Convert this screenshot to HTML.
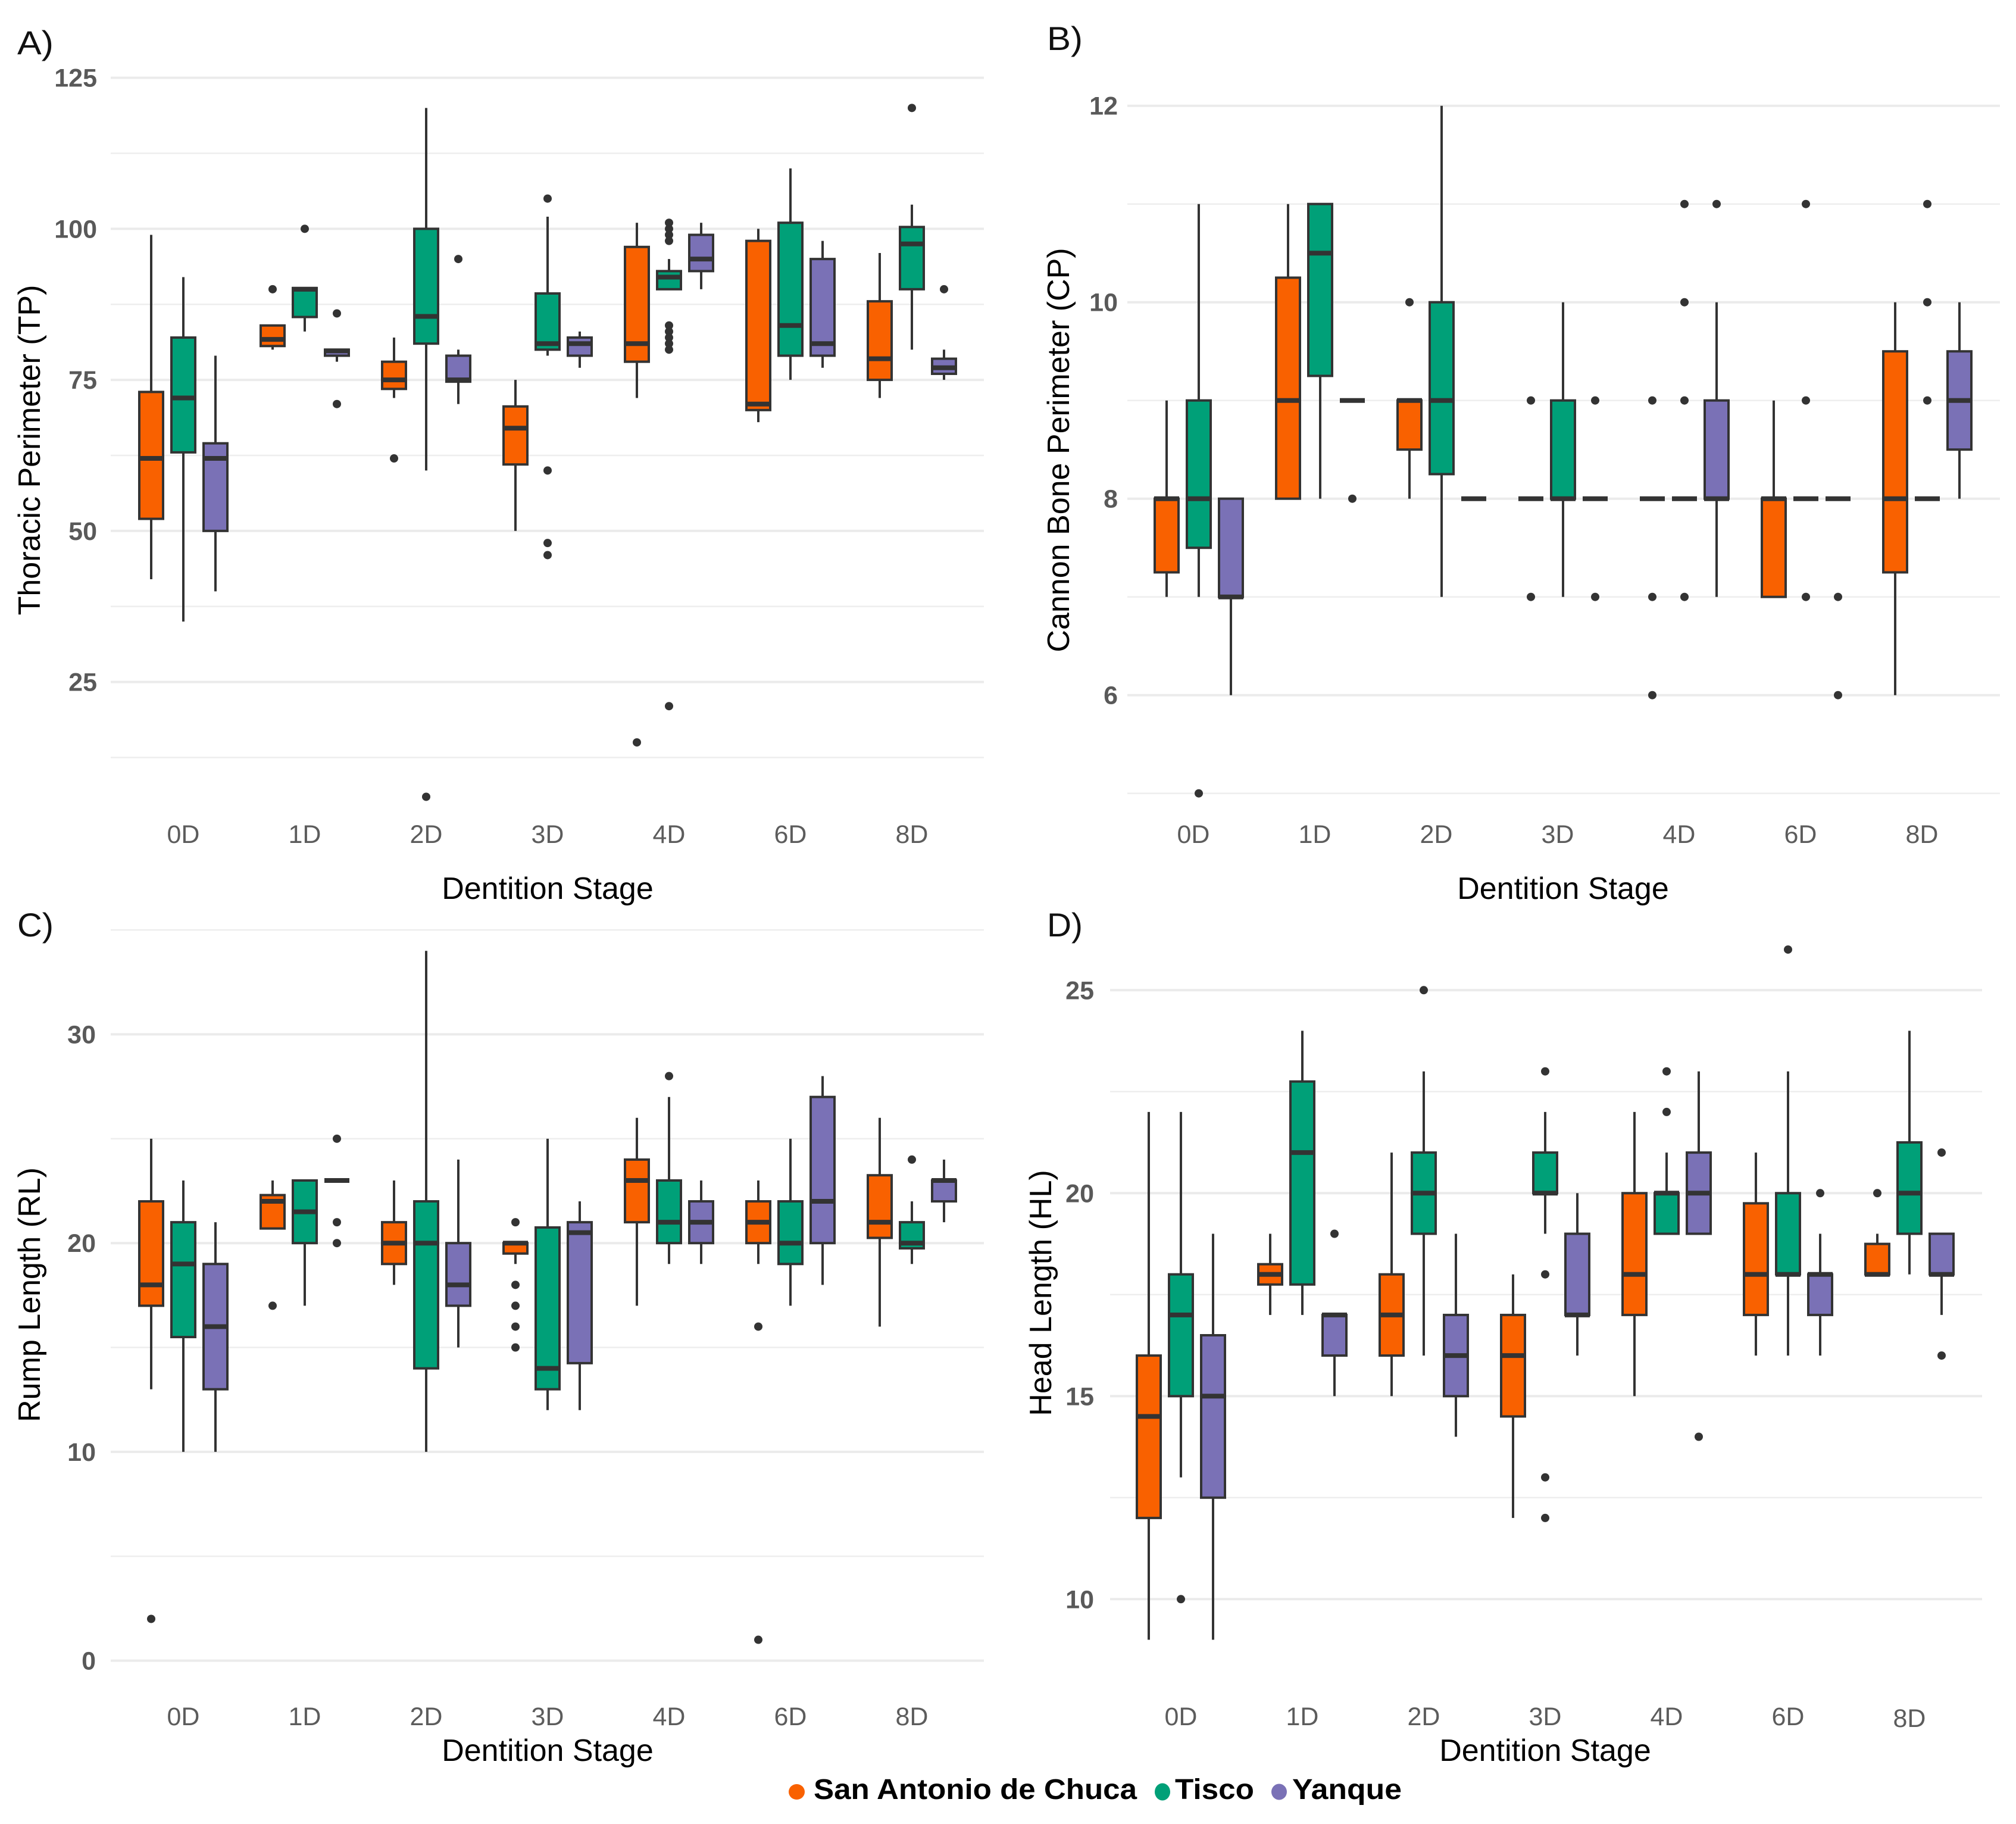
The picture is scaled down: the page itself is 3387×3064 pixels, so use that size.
<!DOCTYPE html>
<html lang="en">
<head>
<meta charset="utf-8">
<title>Body measurements by dentition stage</title>
<style>
html,body{margin:0;padding:0;background:#fff;}
svg{display:block;font-family:"Liberation Sans",sans-serif;}
.title{font-size:52px;fill:#000;}
.panel{font-size:56px;fill:#111;}
.legend{font-size:48px;font-weight:bold;fill:#000;}
</style>
</head>
<body>
<svg id="chart" xmlns="http://www.w3.org/2000/svg" width="3387" height="3064" viewBox="0 0 3387 3064">
  <rect x="0" y="0" width="3387" height="3064" fill="#ffffff"/>
  <g id="panel-a"></g>
  <g id="panel-b"></g>
  <g id="panel-c"></g>
  <g id="panel-d"></g>

  <text class="panel" x="29" y="91" textLength="61" lengthAdjust="spacingAndGlyphs">A)</text>
  <text class="panel" x="1759" y="84" textLength="60" lengthAdjust="spacingAndGlyphs">B)</text>
  <text class="panel" x="29" y="1573" textLength="61" lengthAdjust="spacingAndGlyphs">C)</text>
  <text class="panel" x="1759" y="1573" textLength="60" lengthAdjust="spacingAndGlyphs">D)</text>

  <text class="title" text-anchor="middle" transform="translate(67,756) rotate(-90)">Thoracic Perimeter (TP)</text>
  <text class="title" text-anchor="middle" transform="translate(1796,756) rotate(-90)">Cannon Bone Perimeter (CP)</text>
  <text class="title" text-anchor="middle" transform="translate(67,2175) rotate(-90)">Rump Length (RL)</text>
  <text class="title" text-anchor="middle" transform="translate(1766,2172) rotate(-90)">Head Length (HL)</text>

  <text class="title" text-anchor="middle" x="920" y="1510">Dentition Stage</text>
  <text class="title" text-anchor="middle" x="2626" y="1510">Dentition Stage</text>
  <text class="title" text-anchor="middle" x="920" y="2958">Dentition Stage</text>
  <text class="title" text-anchor="middle" x="2596" y="2958">Dentition Stage</text>

  <g>
    <ellipse cx="1338.5" cy="3010" rx="13.5" ry="13" fill="#F96100"/>
    <text class="legend" x="1367" y="3022" textLength="543" lengthAdjust="spacingAndGlyphs">San Antonio de Chuca</text>
    <ellipse cx="1953" cy="3010" rx="13" ry="14.5" fill="#00A078"/>
    <text class="legend" x="1974" y="3022" textLength="133" lengthAdjust="spacingAndGlyphs">Tisco</text>
    <ellipse cx="2149" cy="3010" rx="13" ry="13.5" fill="#7A71B6"/>
    <text class="legend" x="2171" y="3022" textLength="184" lengthAdjust="spacingAndGlyphs">Yanque</text>
  </g>
</svg>

<script>
// ---------- shared categories ----------
const categories = ['0D', '1D', '2D', '3D', '4D', '6D', '8D'];
const seriesNames = ['San Antonio de Chuca', 'Tisco', 'Yanque'];

// Each stats row: [lower whisker, q1, median, q3, upper whisker], one row per dentition stage.
// ---------- Panel A: Thoracic Perimeter ----------
const tpTicks = [25, 50, 75, 100, 125];
const tpMinorTicks = [12.5, 37.5, 62.5, 87.5, 112.5];
const tpSanAntonio = [[42,52,62,73,99],[80,80.6,81.7,84,84],[72,73.5,75,78,82],[50,61,67,70.6,75],[72,78,81,97,101],[68,70,71,98,100],[72,75,78.5,88,96]];
const tpTisco = [[35,63,72,82,92],[83,85.4,90,90.2,90.2],[60,81,85.5,100,120],[79,80,81,89.3,102],[90,90,92,93,95],[75,79,84,101,110],[80,90,97.5,100.3,104]];
const tpYanque = [[40,50,62,64.5,79],[78,79,79.8,80,80],[71,74.7,75,79,80],[77,79,81,82,83],[90,93,95,99,101],[77,79,81,95,98],[75,76,77,78.5,80]];
const tpSanAntonioOutliers = [[],[90],[62],[],[15],[],[]];
const tpTiscoOutliers = [[],[100],[6],[105,60,48,46],[101,100,99,98,84,83,82,81,80,21],[],[120]];
const tpYanqueOutliers = [[],[86,71],[95],[],[],[],[90]];

// ---------- Panel B: Cannon Bone Perimeter ----------
const cpTicks = [6, 8, 10, 12];
const cpMinorTicks = [5, 7, 9, 11];
const cpSanAntonio = [[7,7.25,8,8,9],[8,8,9,10.25,11],[8,8.5,9,9,9],[8,8,8,8,8],[8,8,8,8,8],[7,7,8,8,9],[6,7.25,8,9.5,10]];
const cpTisco = [[7,7.5,8,9,11],[8,9.25,10.5,11,11],[7,8.25,9,10,12],[7,8,8,9,10],[8,8,8,8,8],[8,8,8,8,8],[8,8,8,8,8]];
const cpYanque = [[6,7,7,8,8],[9,9,9,9,9],[8,8,8,8,8],[8,8,8,8,8],[7,8,8,9,10],[8,8,8,8,8],[8,8.5,9,9.5,10]];
const cpSanAntonioOutliers = [[],[],[10],[9,7],[9,7,6],[],[]];
const cpTiscoOutliers = [[5],[],[],[],[11,10,9,7],[11,9,7],[11,10,9]];
const cpYanqueOutliers = [[],[8],[],[9,7],[11],[7,6],[]];

// ---------- Panel C: Rump Length ----------
const rlTicks = [0, 10, 20, 30];
const rlMinorTicks = [5, 15, 25, 35];
const rlSanAntonio = [[13,17,18,22,25],[20.7,20.7,22,22.3,23],[18,19,20,21,23],[19,19.5,20,20,20],[17,21,23,24,26],[19,20,21,22,23],[16,20.25,21,23.25,26]];
const rlTisco = [[10,15.5,19,21,23],[17,20,21.5,23,23],[10,14,20,22,34],[12,13,14,20.75,25],[19,20,21,23,27],[17,19,20,22,25],[19,19.75,20,21,22]];
const rlYanque = [[10,13,16,19,21],[23,23,23,23,23],[15,17,18,20,24],[12,14.25,20.5,21,22],[19,20,21,22,23],[18,20,22,27,28],[21,22,23,23,24]];
const rlSanAntonioOutliers = [[2],[17],[],[21,18,17,16,15],[],[16,1],[]];
const rlTiscoOutliers = [[],[],[],[],[28],[],[24]];
const rlYanqueOutliers = [[],[25,21,20],[],[],[],[],[]];

// ---------- Panel D: Head Length ----------
const hlTicks = [10, 15, 20, 25];
const hlMinorTicks = [12.5, 17.5, 22.5];
const hlSanAntonio = [[9,12,14.5,16,22],[17,17.75,18,18.25,19],[15,16,17,18,21],[12,14.5,16,17,18],[15,17,18,20,22],[16,17,18,19.75,21],[18,18,18,18.75,19]];
const hlTisco = [[13,15,17,18,22],[17,17.75,21,22.75,24],[16,19,20,21,23],[19,20,20,21,22],[19,19,20,20,21],[16,18,18,20,23],[18,19,20,21.25,24]];
const hlYanque = [[9,12.5,15,16.5,19],[15,16,17,17,17],[14,15,16,17,19],[16,17,17,19,20],[19,19,20,21,23],[16,17,18,18,19],[17,18,18,19,19]];
const hlSanAntonioOutliers = [[],[],[],[],[],[],[20]];
const hlTiscoOutliers = [[10],[],[25],[23,18,13,12],[23,22],[26],[]];
const hlYanqueOutliers = [[],[19],[],[],[14],[20],[21,16]];

// ---------- drawing ----------
const NS = 'http://www.w3.org/2000/svg';
const fills = ['#F96100', '#00A078', '#7A71B6'];
const INK = '#333333';
const BOX_W = 40, DODGE = 54, STEP = 204;

function mk(parent, tag, attrs) {
  const el = document.createElementNS(NS, tag);
  for (const k in attrs) el.setAttribute(k, attrs[k]);
  parent.appendChild(el);
  return el;
}

function slug(s) { return s.toLowerCase().replace(/\s+/g, '-'); }

function drawPanel(cfg) {
  const root = document.getElementById(cfg.id);
  const y = v => cfg.yRef + (cfg.vRef - v) * cfg.pxPerUnit;
  const x = i => cfg.x0 + i * STEP;

  cfg.minor.forEach(v => {
    const g = mk(root, 'line', {x1: cfg.left, x2: cfg.right, y1: y(v), y2: y(v), stroke: '#EEEEEE', 'stroke-width': 2.5});
    
    
  });
  cfg.major.forEach(v => {
    const g = mk(root, 'line', {x1: cfg.left, x2: cfg.right, y1: y(v), y2: y(v), stroke: '#EBEBEB', 'stroke-width': 4});
    
    
    const t = mk(root, 'text', {x: cfg.tickRight, y: y(v) + 15, 'text-anchor': 'end', 'font-size': 43, 'font-weight': 'bold', fill: '#595959'});
    t.textContent = String(v);
    
    
  });
  categories.forEach((c, i) => {
    const dy = i === categories.length - 1 ? cfg.lastTickDy : 0;
    const t = mk(root, 'text', {x: x(i) + cfg.tickDx, y: cfg.tickY + dy, 'text-anchor': 'middle', 'font-size': 43, fill: '#5c5c5c'});
    t.textContent = c;
    
    
  });

  cfg.series.forEach((rows, s) => {
    const series = mk(root, 'g', {});
    
    
    rows.forEach((row, i) => {
      const cx = x(i) + (s - 1) * DODGE;
      const [lo, q1, med, q3, hi] = row;
      const group = mk(series, 'g', {});
      
      

      cfg.outliers[s][i].forEach(v => {
        const d = mk(group, 'circle', {cx: cx, cy: y(v), r: 7, fill: INK});
        
        
      });
      if (hi > q3) {
        const w = mk(group, 'line', {x1: cx, x2: cx, y1: y(q3), y2: y(hi), stroke: INK, 'stroke-width': 4});
        
        
      }
      if (lo < q1) {
        const w = mk(group, 'line', {x1: cx, x2: cx, y1: y(q1), y2: y(lo), stroke: INK, 'stroke-width': 4});
        
        
      }
      if (q3 > q1) {
        const b = mk(group, 'rect', {x: cx - BOX_W / 2, y: y(q3), width: BOX_W, height: y(q1) - y(q3), fill: fills[s], stroke: INK, 'stroke-width': 4});
        
        
      }
      const m = mk(group, 'line', {x1: cx - BOX_W / 2 - 1, x2: cx + BOX_W / 2 + 1, y1: y(med), y2: y(med), stroke: INK, 'stroke-width': 8});
      
      
    });
  });
}

drawPanel({
  id: 'panel-a', left: 186, right: 1653, x0: 308, tickDx: 0, tickRight: 163, tickY: 1416, lastTickDy: 0,
  yRef: 130.6, vRef: 125, pxPerUnit: 10.15,
  major: tpTicks, minor: tpMinorTicks,
  series: [tpSanAntonio, tpTisco, tpYanque],
  outliers: [tpSanAntonioOutliers, tpTiscoOutliers, tpYanqueOutliers]
});
drawPanel({
  id: 'panel-b', left: 1894, right: 3360, x0: 2014, tickDx: -9, tickRight: 1878, tickY: 1416, lastTickDy: 0,
  yRef: 177.7, vRef: 12, pxPerUnit: 165,
  major: cpTicks, minor: cpMinorTicks,
  series: [cpSanAntonio, cpTisco, cpYanque],
  outliers: [cpSanAntonioOutliers, cpTiscoOutliers, cpYanqueOutliers]
});
drawPanel({
  id: 'panel-c', left: 186, right: 1653, x0: 308, tickDx: 0, tickRight: 161, tickY: 2898, lastTickDy: 0,
  yRef: 2789.6, vRef: 0, pxPerUnit: 35.07,
  major: rlTicks, minor: rlMinorTicks,
  series: [rlSanAntonio, rlTisco, rlYanque],
  outliers: [rlSanAntonioOutliers, rlTiscoOutliers, rlYanqueOutliers]
});
drawPanel({
  id: 'panel-d', left: 1865, right: 3330, x0: 1984, tickDx: 0, tickRight: 1838, tickY: 2898, lastTickDy: 3,
  yRef: 2004.3, vRef: 20, pxPerUnit: 68.2,
  major: hlTicks, minor: hlMinorTicks,
  series: [hlSanAntonio, hlTisco, hlYanque],
  outliers: [hlSanAntonioOutliers, hlTiscoOutliers, hlYanqueOutliers]
});
</script>
</body>
</html>
